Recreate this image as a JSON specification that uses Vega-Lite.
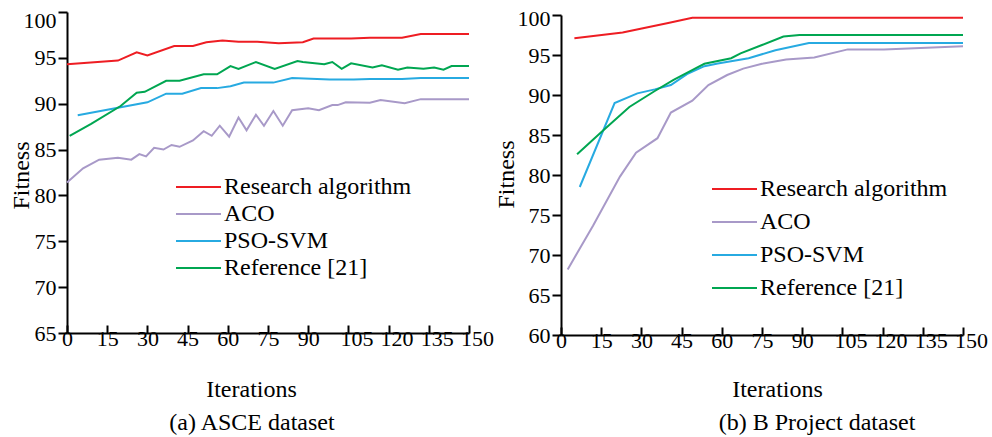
{
  "$schema": "https://vega.github.io/schema/vega-lite/v6.json",
  "padding": {"left": 9, "top": 7, "right": 2, "bottom": 2},
  "background": "white",
  "spacing": 0,
  "config": {
    "font": "Liberation Serif",
    "view": {"stroke": null},
    "axis": {
      "grid": false,
      "domainColor": "black",
      "domainWidth": 2,
      "tickColor": "black",
      "tickWidth": 2,
      "labelColor": "black",
      "titleColor": "black",
      "labelFont": "Liberation Serif",
      "titleFont": "Liberation Serif",
      "labelFontSize": 22,
      "titleFontSize": 24,
      "titleFontWeight": "normal",
      "labelFlush": false,
      "labelOverlap": false
    },
    "legend": {
      "symbolType": "stroke",
      "symbolSize": 2025,
      "symbolStrokeWidth": 2,
      "labelFont": "Liberation Serif",
      "labelFontSize": 24,
      "labelColor": "black",
      "labelOffset": 2,
      "labelLimit": 400,
      "clipHeight": 24,
      "padding": 0
    },
    "title": {"font": "Liberation Serif", "fontSize": 24, "fontWeight": "normal", "color": "black"}
  },
  "datasets": {
    "pts": [
      {"panel": "a", "series": "Research algorithm", "it": 0, "v": 94.3},
      {"panel": "a", "series": "Research algorithm", "it": 19, "v": 94.7},
      {"panel": "a", "series": "Research algorithm", "it": 26, "v": 95.6},
      {"panel": "a", "series": "Research algorithm", "it": 30, "v": 95.25},
      {"panel": "a", "series": "Research algorithm", "it": 40, "v": 96.3},
      {"panel": "a", "series": "Research algorithm", "it": 47, "v": 96.3},
      {"panel": "a", "series": "Research algorithm", "it": 52, "v": 96.7},
      {"panel": "a", "series": "Research algorithm", "it": 58, "v": 96.9},
      {"panel": "a", "series": "Research algorithm", "it": 64, "v": 96.75},
      {"panel": "a", "series": "Research algorithm", "it": 71, "v": 96.75},
      {"panel": "a", "series": "Research algorithm", "it": 79, "v": 96.6},
      {"panel": "a", "series": "Research algorithm", "it": 88, "v": 96.7},
      {"panel": "a", "series": "Research algorithm", "it": 92, "v": 97.1},
      {"panel": "a", "series": "Research algorithm", "it": 106, "v": 97.1},
      {"panel": "a", "series": "Research algorithm", "it": 113, "v": 97.2},
      {"panel": "a", "series": "Research algorithm", "it": 125, "v": 97.2},
      {"panel": "a", "series": "Research algorithm", "it": 132, "v": 97.6},
      {"panel": "a", "series": "Research algorithm", "it": 150, "v": 97.6},

      {"panel": "a", "series": "ACO", "it": 0, "v": 81.4},
      {"panel": "a", "series": "ACO", "it": 6, "v": 82.95},
      {"panel": "a", "series": "ACO", "it": 12, "v": 83.9},
      {"panel": "a", "series": "ACO", "it": 19, "v": 84.1},
      {"panel": "a", "series": "ACO", "it": 24, "v": 83.9},
      {"panel": "a", "series": "ACO", "it": 27, "v": 84.5},
      {"panel": "a", "series": "ACO", "it": 29.5, "v": 84.25},
      {"panel": "a", "series": "ACO", "it": 32.5, "v": 85.2},
      {"panel": "a", "series": "ACO", "it": 36, "v": 85.0},
      {"panel": "a", "series": "ACO", "it": 39, "v": 85.5},
      {"panel": "a", "series": "ACO", "it": 42, "v": 85.3},
      {"panel": "a", "series": "ACO", "it": 47, "v": 86.0},
      {"panel": "a", "series": "ACO", "it": 51, "v": 87.0},
      {"panel": "a", "series": "ACO", "it": 54, "v": 86.5},
      {"panel": "a", "series": "ACO", "it": 57, "v": 87.6},
      {"panel": "a", "series": "ACO", "it": 60.5, "v": 86.4},
      {"panel": "a", "series": "ACO", "it": 64, "v": 88.5},
      {"panel": "a", "series": "ACO", "it": 67, "v": 87.1},
      {"panel": "a", "series": "ACO", "it": 70.5, "v": 88.8},
      {"panel": "a", "series": "ACO", "it": 73.5, "v": 87.6},
      {"panel": "a", "series": "ACO", "it": 77, "v": 89.2},
      {"panel": "a", "series": "ACO", "it": 80.5, "v": 87.6},
      {"panel": "a", "series": "ACO", "it": 84, "v": 89.3},
      {"panel": "a", "series": "ACO", "it": 90, "v": 89.5},
      {"panel": "a", "series": "ACO", "it": 94, "v": 89.3},
      {"panel": "a", "series": "ACO", "it": 99, "v": 89.85},
      {"panel": "a", "series": "ACO", "it": 101, "v": 89.85},
      {"panel": "a", "series": "ACO", "it": 104, "v": 90.15},
      {"panel": "a", "series": "ACO", "it": 113, "v": 90.1},
      {"panel": "a", "series": "ACO", "it": 117, "v": 90.4},
      {"panel": "a", "series": "ACO", "it": 126, "v": 90.05},
      {"panel": "a", "series": "ACO", "it": 132, "v": 90.5},
      {"panel": "a", "series": "ACO", "it": 150, "v": 90.5},

      {"panel": "a", "series": "PSO-SVM", "it": 4, "v": 88.75},
      {"panel": "a", "series": "PSO-SVM", "it": 30, "v": 90.15},
      {"panel": "a", "series": "PSO-SVM", "it": 37, "v": 91.1},
      {"panel": "a", "series": "PSO-SVM", "it": 43, "v": 91.1},
      {"panel": "a", "series": "PSO-SVM", "it": 50, "v": 91.7},
      {"panel": "a", "series": "PSO-SVM", "it": 56, "v": 91.7},
      {"panel": "a", "series": "PSO-SVM", "it": 61, "v": 91.9},
      {"panel": "a", "series": "PSO-SVM", "it": 66, "v": 92.3},
      {"panel": "a", "series": "PSO-SVM", "it": 77, "v": 92.3},
      {"panel": "a", "series": "PSO-SVM", "it": 84, "v": 92.8},
      {"panel": "a", "series": "PSO-SVM", "it": 98, "v": 92.65},
      {"panel": "a", "series": "PSO-SVM", "it": 107, "v": 92.65},
      {"panel": "a", "series": "PSO-SVM", "it": 113, "v": 92.7},
      {"panel": "a", "series": "PSO-SVM", "it": 125, "v": 92.7},
      {"panel": "a", "series": "PSO-SVM", "it": 132, "v": 92.8},
      {"panel": "a", "series": "PSO-SVM", "it": 150, "v": 92.8},

      {"panel": "a", "series": "Reference [21]", "it": 1, "v": 86.5},
      {"panel": "a", "series": "Reference [21]", "it": 9, "v": 87.8},
      {"panel": "a", "series": "Reference [21]", "it": 20, "v": 89.75},
      {"panel": "a", "series": "Reference [21]", "it": 26, "v": 91.2},
      {"panel": "a", "series": "Reference [21]", "it": 29, "v": 91.3},
      {"panel": "a", "series": "Reference [21]", "it": 37, "v": 92.5},
      {"panel": "a", "series": "Reference [21]", "it": 42, "v": 92.5},
      {"panel": "a", "series": "Reference [21]", "it": 51, "v": 93.2},
      {"panel": "a", "series": "Reference [21]", "it": 56, "v": 93.2},
      {"panel": "a", "series": "Reference [21]", "it": 61, "v": 94.1},
      {"panel": "a", "series": "Reference [21]", "it": 64, "v": 93.8},
      {"panel": "a", "series": "Reference [21]", "it": 70.5, "v": 94.55},
      {"panel": "a", "series": "Reference [21]", "it": 77.5, "v": 93.8},
      {"panel": "a", "series": "Reference [21]", "it": 86, "v": 94.65},
      {"panel": "a", "series": "Reference [21]", "it": 88, "v": 94.55},
      {"panel": "a", "series": "Reference [21]", "it": 96, "v": 94.3},
      {"panel": "a", "series": "Reference [21]", "it": 99, "v": 94.55},
      {"panel": "a", "series": "Reference [21]", "it": 102.5, "v": 93.8},
      {"panel": "a", "series": "Reference [21]", "it": 106, "v": 94.4},
      {"panel": "a", "series": "Reference [21]", "it": 114, "v": 93.95},
      {"panel": "a", "series": "Reference [21]", "it": 117.5, "v": 94.2},
      {"panel": "a", "series": "Reference [21]", "it": 123.5, "v": 93.7},
      {"panel": "a", "series": "Reference [21]", "it": 127, "v": 93.95},
      {"panel": "a", "series": "Reference [21]", "it": 133, "v": 93.8},
      {"panel": "a", "series": "Reference [21]", "it": 137, "v": 93.95},
      {"panel": "a", "series": "Reference [21]", "it": 140.5, "v": 93.7},
      {"panel": "a", "series": "Reference [21]", "it": 143.5, "v": 94.1},
      {"panel": "a", "series": "Reference [21]", "it": 150, "v": 94.1},

      {"panel": "b", "series": "Research algorithm", "it": 5, "v": 97.1},
      {"panel": "b", "series": "Research algorithm", "it": 23, "v": 97.8},
      {"panel": "b", "series": "Research algorithm", "it": 27, "v": 98.1},
      {"panel": "b", "series": "Research algorithm", "it": 40, "v": 99.0},
      {"panel": "b", "series": "Research algorithm", "it": 49, "v": 99.65},
      {"panel": "b", "series": "Research algorithm", "it": 150, "v": 99.65},

      {"panel": "b", "series": "ACO", "it": 2.5, "v": 68.2},
      {"panel": "b", "series": "ACO", "it": 12, "v": 73.7},
      {"panel": "b", "series": "ACO", "it": 22, "v": 79.8},
      {"panel": "b", "series": "ACO", "it": 28, "v": 82.8},
      {"panel": "b", "series": "ACO", "it": 36, "v": 84.6},
      {"panel": "b", "series": "ACO", "it": 41, "v": 87.8},
      {"panel": "b", "series": "ACO", "it": 49, "v": 89.3},
      {"panel": "b", "series": "ACO", "it": 55, "v": 91.25},
      {"panel": "b", "series": "ACO", "it": 62, "v": 92.5},
      {"panel": "b", "series": "ACO", "it": 68, "v": 93.3},
      {"panel": "b", "series": "ACO", "it": 75, "v": 93.9},
      {"panel": "b", "series": "ACO", "it": 84, "v": 94.45},
      {"panel": "b", "series": "ACO", "it": 94.5, "v": 94.7},
      {"panel": "b", "series": "ACO", "it": 107, "v": 95.7},
      {"panel": "b", "series": "ACO", "it": 120.5, "v": 95.7},
      {"panel": "b", "series": "ACO", "it": 150, "v": 96.1},

      {"panel": "b", "series": "PSO-SVM", "it": 7, "v": 78.5},
      {"panel": "b", "series": "PSO-SVM", "it": 20, "v": 89.0},
      {"panel": "b", "series": "PSO-SVM", "it": 28.5, "v": 90.2},
      {"panel": "b", "series": "PSO-SVM", "it": 35, "v": 90.7},
      {"panel": "b", "series": "PSO-SVM", "it": 41, "v": 91.25},
      {"panel": "b", "series": "PSO-SVM", "it": 47, "v": 92.6},
      {"panel": "b", "series": "PSO-SVM", "it": 53.5, "v": 93.6},
      {"panel": "b", "series": "PSO-SVM", "it": 58.5, "v": 93.95},
      {"panel": "b", "series": "PSO-SVM", "it": 70, "v": 94.6},
      {"panel": "b", "series": "PSO-SVM", "it": 80, "v": 95.6},
      {"panel": "b", "series": "PSO-SVM", "it": 92.5, "v": 96.5},
      {"panel": "b", "series": "PSO-SVM", "it": 150, "v": 96.5},

      {"panel": "b", "series": "Reference [21]", "it": 6, "v": 82.6},
      {"panel": "b", "series": "Reference [21]", "it": 15.5, "v": 85.5},
      {"panel": "b", "series": "Reference [21]", "it": 25.5, "v": 88.5},
      {"panel": "b", "series": "Reference [21]", "it": 35, "v": 90.5},
      {"panel": "b", "series": "Reference [21]", "it": 42, "v": 91.9},
      {"panel": "b", "series": "Reference [21]", "it": 50, "v": 93.3},
      {"panel": "b", "series": "Reference [21]", "it": 53.5, "v": 93.9},
      {"panel": "b", "series": "Reference [21]", "it": 63.5, "v": 94.6},
      {"panel": "b", "series": "Reference [21]", "it": 67, "v": 95.2},
      {"panel": "b", "series": "Reference [21]", "it": 75, "v": 96.25},
      {"panel": "b", "series": "Reference [21]", "it": 83, "v": 97.3},
      {"panel": "b", "series": "Reference [21]", "it": 89, "v": 97.5},
      {"panel": "b", "series": "Reference [21]", "it": 150, "v": 97.5}
    ]
  },
  "data": {"name": "pts"},
  "resolve": {"scale": {"y": "independent"}, "legend": {"color": "independent"}},
  "hconcat": [
    {
      "width": 402,
      "height": 321,
      "title": {"text": "(a) ASCE dataset", "orient": "bottom", "anchor": "middle", "dx": -16, "offset": 10},
      "transform": [{"filter": "datum.panel === 'a'"}],
      "mark": {"type": "line", "strokeWidth": 2},
      "encoding": {
        "x": {
          "field": "it", "type": "quantitative",
          "scale": {"domain": [0, 150], "nice": false},
          "axis": {
            "values": [0, 15, 30, 45, 60, 75, 90, 105, 120, 135, 150],
            "title": "Iterations",
            "tickSize": -8,
            "labelPadding": 3,
            "labelOffset": {"condition": {"test": "datum.value >= 100", "value": 8}, "value": 0},
            "titleX": 184, "titleY": 63, "titleBaseline": "alphabetic", "titleAlign": "center"
          }
        },
        "y": {
          "field": "v", "type": "quantitative",
          "scale": {"domain": [65, 100], "zero": false, "nice": false},
          "axis": {
            "values": [65, 70, 75, 80, 85, 90, 95, 100],
            "title": "Fitness",
            "tickSize": 9,
            "labelPadding": 2,
            "labelOffset": {"condition": {"test": "datum.value === 100", "value": 8}, "value": 0},
            "titleX": -39, "titleY": 163, "titleBaseline": "alphabetic", "titleAlign": "center"
          }
        },
        "color": {
          "field": "series", "type": "nominal",
          "scale": {"domain": ["Research algorithm", "ACO", "PSO-SVM", "Reference [21]"], "range": ["#ee1d23", "#a899c8", "#27aae1", "#00a651"]},
          "legend": {"orient": "none", "legendX": 108, "legendY": 163, "title": null, "rowPadding": 3}
        }
      }
    },
    {
      "width": 402,
      "height": 323,
      "title": {"text": "(b) B Project dataset", "orient": "bottom", "anchor": "middle", "dx": 55, "offset": 10},
      "transform": [{"filter": "datum.panel === 'b'"}],
      "mark": {"type": "line", "strokeWidth": 2},
      "encoding": {
        "x": {
          "field": "it", "type": "quantitative",
          "scale": {"domain": [0, 150], "nice": false},
          "axis": {
            "values": [0, 15, 30, 45, 60, 75, 90, 105, 120, 135, 150],
            "title": "Iterations",
            "tickSize": -8,
            "labelPadding": 3,
            "labelOffset": {"condition": {"test": "datum.value >= 100", "value": 8}, "value": 0},
            "titleX": 216, "titleY": 61, "titleBaseline": "alphabetic", "titleAlign": "center"
          }
        },
        "y": {
          "field": "v", "type": "quantitative",
          "scale": {"domain": [60, 100], "zero": false, "nice": false, "range": [323, 3]},
          "axis": {
            "values": [60, 65, 70, 75, 80, 85, 90, 95, 100],
            "title": "Fitness",
            "tickSize": 9,
            "labelPadding": 2,
            "labelOffset": {"condition": {"test": "datum.value === 100", "value": 3}, "value": 0},
            "titleX": -48, "titleY": 162, "titleBaseline": "alphabetic", "titleAlign": "center"
          }
        },
        "color": {
          "field": "series", "type": "nominal",
          "scale": {"domain": ["Research algorithm", "ACO", "PSO-SVM", "Reference [21]"], "range": ["#ee1d23", "#a899c8", "#27aae1", "#00a651"]},
          "legend": {"orient": "none", "legendX": 150, "legendY": 165, "title": null, "rowPadding": 9}
        }
      }
    }
  ]
}
